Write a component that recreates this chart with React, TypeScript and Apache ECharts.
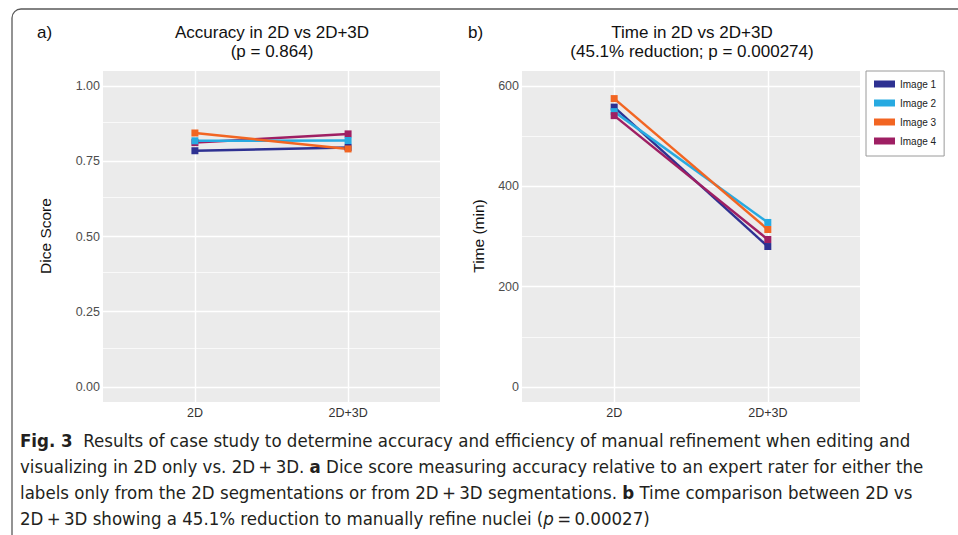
import React, { useEffect, useRef } from 'react';
import * as echarts from 'echarts';

const categories = ['2D', '2D+3D'];
const imageNames = ['Image 1', 'Image 2', 'Image 3', 'Image 4'];
const colors = ['#2E3192', '#27AAE1', '#F26522', '#9E1F63'];

const diceImage1 = [0.785, 0.796];
const diceImage2 = [0.818, 0.819];
const diceImage3 = [0.844, 0.791];
const diceImage4 = [0.812, 0.841];

const timeImage1 = [558, 280];
const timeImage2 = [549, 328];
const timeImage3 = [575, 314];
const timeImage4 = [541, 294];

const diceTicks = [0, 0.25, 0.5, 0.75, 1];
const diceMinor = [0.125, 0.375, 0.625, 0.875];
const timeTicks = [0, 200, 400, 600];
const timeMinor = [100, 300, 500];
const catPositions = [0, 1];

const captionLines = [
  '{b|Fig. 3}  Results of case study to determine accuracy and efficiency of manual refinement when editing and',
  'visualizing in 2D only vs. 2D\u2009+\u20093D. {b|a} Dice score measuring accuracy relative to an expert rater for either the',
  'labels only from the 2D segmentations or from 2D\u2009+\u20093D segmentations. {b|b} Time comparison between 2D vs',
  '2D\u2009+\u20093D showing a 45.1% reduction to manually refine nuclei ({i|p}\u2009=\u20090.00027)',
];

const FONT = "'Liberation Sans', Arial, sans-serif";
const CAP_FONT = "'Liberation Sans Narrow', 'DejaVu Sans Condensed', 'Roboto Condensed', 'Liberation Sans', sans-serif";

function gridLines(major: number[], minor: number[]) {
  return [
    ...major.map((v) => ({ yAxis: v, lineStyle: { color: '#ffffff', width: 1.4, type: 'solid' } })),
    ...minor.map((v) => ({ yAxis: v, lineStyle: { color: '#ffffff', width: 0.7, type: 'solid' } })),
    ...catPositions.map((v) => ({ xAxis: v, lineStyle: { color: '#ffffff', width: 1.4, type: 'solid' } })),
  ];
}

function xAxisFor(gridIndex: number) {
  return {
    type: 'value',
    gridIndex,
    min: -0.6,
    max: 1.6,
    axisLine: { show: false },
    splitLine: { show: false },
    axisTick: { show: true, customValues: catPositions, length: 3, lineStyle: { color: '#333', width: 1 } },
    axisLabel: {
      customValues: catPositions,
      formatter: (v: number) => categories[Math.round(v)] ?? '',
      color: '#333',
      fontSize: 12.5,
      fontFamily: FONT,
      margin: 4,
    },
  };
}

function yAxisFor(gridIndex: number, min: number, max: number, ticks: number[], fmt: (v: number) => string) {
  return {
    type: 'value',
    gridIndex,
    min,
    max,
    axisLine: { show: false },
    splitLine: { show: false },
    axisTick: { show: true, customValues: ticks, length: 3, lineStyle: { color: '#333', width: 1 } },
    axisLabel: {
      customValues: ticks,
      formatter: fmt,
      color: '#4D4D4D',
      fontSize: 12.5,
      fontFamily: FONT,
      margin: 3,
    },
  };
}

function dataSeries(name: string, values: number[], color: string, idx: number) {
  return {
    name,
    type: 'line',
    xAxisIndex: idx,
    yAxisIndex: idx,
    data: values.map((v, i) => [catPositions[i], v]),
    symbol: 'rect',
    symbolSize: 7,
    showSymbol: true,
    z: 3,
    lineStyle: { color, width: 2.5 },
    itemStyle: { color },
    color,
  };
}

export default function App() {
  const ref = useRef<HTMLDivElement>(null);

  useEffect(() => {
    document.body.style.margin = '0';
    if (!ref.current) return;
    const chart = echarts.init(ref.current, undefined, { renderer: 'svg' });

    const dice = [diceImage1, diceImage2, diceImage3, diceImage4];
    const time = [timeImage1, timeImage2, timeImage3, timeImage4];
    const leftOrder = [0, 3, 1, 2];
    const rightOrder = [0, 1, 2, 3];

    const option: any = {
      animation: false,
      color: colors,
      grid: [
        { left: 103, top: 71, width: 337, height: 331, show: true, backgroundColor: '#EBEBEB', borderWidth: 0 },
        { left: 522, top: 71, width: 338, height: 331, show: true, backgroundColor: '#EBEBEB', borderWidth: 0 },
      ],
      xAxis: [xAxisFor(0), xAxisFor(1)],
      yAxis: [
        yAxisFor(0, -0.05, 1.05, diceTicks, (v: number) => v.toFixed(2)),
        yAxisFor(1, -30, 630, timeTicks, (v: number) => String(Math.round(v))),
      ],
      legend: {
        data: imageNames,
        orient: 'vertical',
        left: 866,
        top: 71,
        icon: 'rect',
        itemWidth: 21,
        itemHeight: 7,
        itemGap: 7,
        padding: [7, 8, 9, 8],
        borderColor: '#9a9a9a',
        borderWidth: 1,
        backgroundColor: '#ffffff',
        textStyle: { fontSize: 10, color: '#222', fontFamily: FONT, lineHeight: 12 },
      },
      series: [
        {
          type: 'line',
          xAxisIndex: 0,
          yAxisIndex: 0,
          data: [[-1, -1]],
          showSymbol: false,
          lineStyle: { width: 0 },
          silent: true,
          z: 1,
          markLine: { silent: true, symbol: 'none', z: 1, label: { show: false }, data: gridLines(diceTicks, diceMinor) },
        },
        {
          type: 'line',
          xAxisIndex: 1,
          yAxisIndex: 1,
          data: [[-1, -100]],
          showSymbol: false,
          lineStyle: { width: 0 },
          silent: true,
          z: 1,
          markLine: { silent: true, symbol: 'none', z: 1, label: { show: false }, data: gridLines(timeTicks, timeMinor) },
        },
        ...leftOrder.map((i) => dataSeries(imageNames[i], dice[i], colors[i], 0)),
        ...rightOrder.map((i) => dataSeries(imageNames[i], time[i], colors[i], 1)),
      ],
      graphic: [
        {
          type: 'rect',
          silent: true,
          shape: { x: 12, y: 9, width: 1200, height: 800, r: [9, 0, 0, 0] },
          style: { fill: 'none', stroke: '#5a5a5a', lineWidth: 1.3 },
        },
        { type: 'text', x: 37, y: 32, style: { text: 'a)', fontSize: 17, fontFamily: FONT, fill: '#111', textAlign: 'left', textVerticalAlign: 'middle' } },
        { type: 'text', x: 272, y: 32, style: { text: 'Accuracy in 2D vs 2D+3D', fontSize: 17, fontFamily: FONT, fill: '#111', textAlign: 'center', textVerticalAlign: 'middle' } },
        { type: 'text', x: 272, y: 51.5, style: { text: '(p = 0.864)', fontSize: 17, fontFamily: FONT, fill: '#111', textAlign: 'center', textVerticalAlign: 'middle' } },
        { type: 'text', x: 468, y: 32, style: { text: 'b)', fontSize: 17, fontFamily: FONT, fill: '#111', textAlign: 'left', textVerticalAlign: 'middle' } },
        { type: 'text', x: 692, y: 32, style: { text: 'Time in 2D vs 2D+3D', fontSize: 17, fontFamily: FONT, fill: '#111', textAlign: 'center', textVerticalAlign: 'middle' } },
        { type: 'text', x: 692, y: 51.5, style: { text: '(45.1% reduction; p = 0.000274)', fontSize: 17, fontFamily: FONT, fill: '#111', textAlign: 'center', textVerticalAlign: 'middle' } },
        { type: 'text', x: 45, y: 236, rotation: Math.PI / 2, style: { text: 'Dice Score', fontSize: 15.5, fontFamily: FONT, fill: '#111', textAlign: 'center', textVerticalAlign: 'middle' } },
        { type: 'text', x: 478, y: 236, rotation: Math.PI / 2, style: { text: 'Time (min)', fontSize: 15.5, fontFamily: FONT, fill: '#111', textAlign: 'center', textVerticalAlign: 'middle' } },
        ...captionLines.map((line, i) => ({
          type: 'text',
          x: 20,
          y: 440 + i * 26,
          style: {
            text: line,
            fontSize: 18.5,
            fontFamily: CAP_FONT,
            fill: '#231f20',
            textAlign: 'left',
            textVerticalAlign: 'middle',
            rich: {
              b: { fontWeight: 'bold', fontSize: 18.5, fontFamily: CAP_FONT, fill: '#231f20' },
              i: { fontStyle: 'italic', fontSize: 18.5, fontFamily: CAP_FONT, fill: '#231f20' },
            },
          },
        })),
      ],
    };

    chart.setOption(option);
    return () => {
      chart.dispose();
    };
  }, []);

  return <div ref={ref} style={{ width: 958, height: 535 }} />;
}
